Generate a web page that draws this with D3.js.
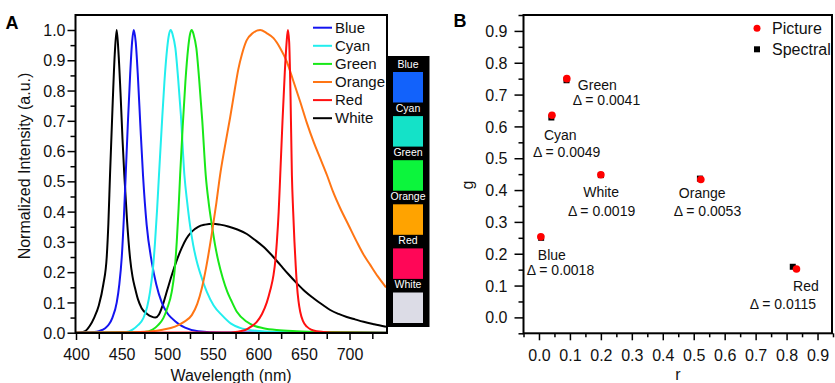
<!DOCTYPE html>
<html><head><meta charset="utf-8">
<script src="https://cdn.jsdelivr.net/npm/d3@7"></script>
<style>body{margin:0;background:#fff} svg{display:block;font-family:"Liberation Sans",Arial,sans-serif}</style>
</head><body><svg id="c" width="835" height="383"></svg>
<script>
// ---------- Panel A data ----------
const seriesNames = ["Blue", "Cyan", "Green", "Orange", "Red", "White"];
const seriesColors = ["#1414f0", "#22eeee", "#18e818", "#ff7514", "#ff1010", "#000000"];
const blueSpectrum = [[400,0],[420,0.002],[426,0.006],[432,0.015],[436,0.027],[440,0.05],[444.7,0.10],[447.5,0.16],[450.2,0.25],[452.5,0.38],[454.5,0.52],[457,0.70],[459.5,0.86],[461.5,0.96],[463.3,1.0],[465.5,0.96],[468,0.84],[470.5,0.69],[473.5,0.52],[477.5,0.356],[483,0.235],[488,0.16],[494,0.10],[500,0.065],[505,0.048],[512,0.03],[519.6,0.017],[534,0.005],[560,0.001],[740,0]];
const cyanSpectrum = [[400,0],[455,0.002],[462,0.01],[468,0.025],[473.9,0.048],[478,0.085],[481.2,0.135],[484,0.2],[486.7,0.30],[489,0.41],[491,0.52],[494,0.68],[497,0.83],[500,0.94],[502,0.985],[504,1.0],[506,0.985],[509,0.94],[512,0.84],[515,0.72],[518.9,0.52],[522,0.43],[525,0.356],[528.5,0.29],[532.5,0.235],[538,0.18],[543.5,0.135],[551,0.09],[560,0.058],[570,0.03],[580,0.016],[595,0.007],[620,0.002],[740,0]];
const greenSpectrum = [[400,0],[475,0.002],[484,0.01],[490,0.025],[495.8,0.048],[500,0.08],[505,0.135],[508,0.2],[510.5,0.30],[512.5,0.41],[514.2,0.52],[517,0.68],[520,0.83],[523,0.94],[525,0.985],[527,1.0],[529,0.985],[532,0.94],[535,0.84],[538.5,0.70],[542.3,0.52],[545.5,0.43],[549,0.356],[552.5,0.29],[556.2,0.235],[561,0.18],[566,0.135],[570,0.108],[576.4,0.069],[587.4,0.036],[596,0.022],[605.6,0.015],[620,0.009],[642,0.005],[680,0.002],[740,0]];
const orangeSpectrum = [[400,0],[460,0.001],[480,0.004],[495,0.01],[508.6,0.02],[518,0.035],[527,0.058],[533,0.095],[538,0.147],[543,0.22],[549,0.328],[554,0.43],[558,0.52],[563,0.61],[569,0.71],[574.5,0.81],[578,0.87],[582,0.92],[587,0.965],[594,0.99],[602,1.0],[609,0.99],[616.6,0.973],[624,0.94],[631.3,0.895],[638,0.835],[645.9,0.763],[653,0.695],[660.5,0.631],[668,0.575],[675.2,0.521],[682,0.465],[689.8,0.411],[699,0.355],[708,0.30],[715,0.26],[722.7,0.224],[731,0.186],[740,0.15]];
const redSpectrum = [[400,0],[570,0.001],[585,0.008],[592,0.02],[598.3,0.036],[604,0.062],[609.3,0.10],[613,0.14],[616.6,0.19],[618.7,0.24],[620.3,0.30],[622.3,0.40],[624,0.52],[626.5,0.70],[629,0.86],[631,0.96],[632.4,1.0],[633.8,0.96],[635.3,0.78],[636.8,0.52],[638.2,0.40],[639.6,0.30],[641,0.22],[642.3,0.158],[644,0.105],[645.9,0.069],[649,0.038],[653.2,0.02],[658,0.01],[664,0.005],[680,0.001],[740,0]];
const whiteSpectrum = [[400,0],[405,0.001],[410,0.005],[415,0.022],[420,0.05],[425,0.09],[430,0.16],[433.7,0.25],[435.5,0.36],[437.3,0.52],[440,0.74],[442.5,0.92],[444.6,1.0],[446.5,0.93],[449,0.78],[451,0.64],[453,0.52],[456,0.37],[459.3,0.246],[462,0.185],[464.8,0.147],[468,0.11],[472,0.081],[478,0.062],[483,0.053],[487,0.05],[491,0.06],[495,0.09],[500,0.14],[505,0.19],[510,0.235],[516,0.28],[521,0.31],[527,0.334],[534,0.35],[541.6,0.357],[550,0.36],[558,0.357],[567,0.351],[577,0.341],[587.4,0.326],[596,0.307],[605.6,0.284],[615,0.255],[624,0.224],[633,0.193],[642.3,0.163],[651,0.137],[660.5,0.114],[670,0.093],[678.8,0.075],[688,0.062],[697,0.052],[706,0.044],[715.4,0.036],[727,0.028],[740,0.02]];
const spectra = [blueSpectrum, cyanSpectrum, greenSpectrum, orangeSpectrum, redSpectrum, whiteSpectrum];
const drawOrder = [5, 0, 1, 2, 3, 4];
const wavelengthTicks = [400, 450, 500, 550, 600, 650, 700];
const wavelengthMinorTicks = [425, 475, 525, 575, 625, 675, 725];
const intensityTicks = [0, 0.1, 0.2, 0.3, 0.4, 0.5, 0.6, 0.7, 0.8, 0.9, 1.0];
const intensityMinorTicks = [0.05, 0.15, 0.25, 0.35, 0.45, 0.55, 0.65, 0.75, 0.85, 0.95];
const swatchNames = ["Blue", "Cyan", "Green", "Orange", "Red", "White"];
const swatchColors = ["#1262fb", "#14e2c8", "#0cf53c", "#ffa300", "#ff0657", "#dcdce6"];

// ---------- Panel B data ----------
const chromaNames = ["Green", "Cyan", "White", "Orange", "Blue", "Red"];
const pictureR = [0.090, 0.042, 0.200, 0.523, 0.006, 0.832];
const pictureG = [0.750, 0.635, 0.448, 0.433, 0.253, 0.152];
const spectralR = [0.089, 0.040, 0.200, 0.520, 0.007, 0.820];
const spectralG = [0.745, 0.628, 0.447, 0.436, 0.250, 0.159];
const deltas = ["0.0041", "0.0049", "0.0019", "0.0053", "0.0018", "0.0115"];
const rTicks = [0, 0.1, 0.2, 0.3, 0.4, 0.5, 0.6, 0.7, 0.8, 0.9];
const rMinorTicks = [-0.05, 0.05, 0.15, 0.25, 0.35, 0.45, 0.55, 0.65, 0.75, 0.85, 0.95];
const gTicks = [0, 0.1, 0.2, 0.3, 0.4, 0.5, 0.6, 0.7, 0.8, 0.9];
const gMinorTicks = [-0.05, 0.05, 0.15, 0.25, 0.35, 0.45, 0.55, 0.65, 0.75, 0.85, 0.95];

// ---------- Drawing ----------
const svg = d3.select("#c");
const fmt1 = d3.format(".1f");

// Panel A
const xA = d3.scaleLinear().domain([400, 740]).range([76, 386]);
const yA = d3.scaleLinear().domain([0, 1]).range([332.7, 30]);
const A = svg.append("g");

const line = d3.line().x(d => xA(d[0])).y(d => yA(d[1])).curve(d3.curveMonotoneX);
drawOrder.forEach(i => {
  A.append("path").attr("d", line(spectra[i])).attr("fill", "none")
    .attr("stroke", seriesColors[i]).attr("stroke-width", 2).attr("stroke-linejoin", "round");
});

function styleAxis(g) {
  g.select(".domain").remove();
  g.selectAll("line").attr("stroke", "#000").attr("stroke-width", 1.5);
}
// x axis A
A.append("g").attr("transform", "translate(0,333)")
  .call(d3.axisBottom(xA).tickValues(wavelengthMinorTicks).tickSize(6).tickFormat(""))
  .call(styleAxis);
const axAx = A.append("g").attr("transform", "translate(0,333)")
  .call(d3.axisBottom(xA).tickValues(wavelengthTicks).tickSize(7).tickFormat(d3.format("d")))
  .call(styleAxis);
axAx.selectAll("text").attr("y", 21).attr("dy", "0.35em").attr("font-size", 16).attr("fill", "#111").attr("font-family", null);
// y axis A
A.append("g").attr("transform", "translate(75.5,0)")
  .call(d3.axisLeft(yA).tickValues(intensityMinorTicks).tickSize(5).tickFormat(""))
  .call(styleAxis);
const ayAx = A.append("g").attr("transform", "translate(75.5,0)")
  .call(d3.axisLeft(yA).tickValues(intensityTicks).tickSize(8).tickFormat(fmt1))
  .call(styleAxis);
ayAx.selectAll("text").attr("x", -10).attr("dy", "0.35em").attr("font-size", 16).attr("fill", "#111").attr("font-family", null);

// frame A
A.append("rect").attr("x", xA(400) - 0.5).attr("y", 15).attr("width", xA(740) - xA(400) + 1.5).attr("height", 333 - 15)
  .attr("fill", "none").attr("stroke", "#000").attr("stroke-width", 2);

// legend A
seriesNames.forEach((n, i) => {
  const y = 27.7 + i * 18.1;
  A.append("line").attr("x1", 313).attr("x2", 332).attr("y1", y).attr("y2", y)
    .attr("stroke", seriesColors[i]).attr("stroke-width", 2);
  A.append("text").attr("x", 335).attr("y", y).attr("dy", "0.35em").attr("font-size", 15).attr("fill", "#111").text(n);
});

// axis titles A
A.append("text").attr("x", 231).attr("y", 381).attr("text-anchor", "middle").attr("font-size", 16).attr("fill", "#111").text("Wavelength (nm)");
A.append("text").attr("transform", "translate(30,166) rotate(-90)").attr("text-anchor", "middle").attr("font-size", 16).attr("fill", "#111").text("Normalized Intensity (a.u.)");
A.append("text").attr("x", 12).attr("y", 29).attr("text-anchor", "middle").attr("font-size", 18).attr("font-weight", "bold").text("A");

// swatch column
const sw = svg.append("g");
sw.append("rect").attr("x", 386.5).attr("y", 56).attr("width", 43).attr("height", 271).attr("fill", "#000");
swatchNames.forEach((n, i) => {
  const top = 72 + i * 44.1;
  sw.append("text").attr("x", 408).attr("y", top - 8).attr("dy", "0.35em").attr("text-anchor", "middle")
    .attr("font-size", 10.5).attr("fill", "#fff").text(n);
  sw.append("rect").attr("x", 393).attr("y", top).attr("width", 30).attr("height", 30.5).attr("fill", swatchColors[i]);
});

// Panel B
const xB = d3.scaleLinear().domain([-0.05, 0.95]).range([523.5, 833]);
const yB = d3.scaleLinear().domain([-0.05, 0.95]).range([333.3, 15]);
const B = svg.append("g");

B.append("g").attr("transform", "translate(0,333.3)")
  .call(d3.axisBottom(xB).tickValues(rMinorTicks).tickSize(4).tickFormat(""))
  .call(styleAxis);
const bxAx = B.append("g").attr("transform", "translate(0,333.3)")
  .call(d3.axisBottom(xB).tickValues(rTicks).tickSize(7).tickFormat(fmt1))
  .call(styleAxis);
bxAx.selectAll("text").attr("y", 22).attr("dy", "0.35em").attr("font-size", 16).attr("fill", "#111").attr("font-family", null);
B.append("g").attr("transform", "translate(523.5,0)")
  .call(d3.axisLeft(yB).tickValues(gMinorTicks).tickSize(5).tickFormat(""))
  .call(styleAxis);
const byAx = B.append("g").attr("transform", "translate(523.5,0)")
  .call(d3.axisLeft(yB).tickValues(gTicks).tickSize(9).tickFormat(fmt1))
  .call(styleAxis);
byAx.selectAll("text").attr("x", -16).attr("dy", "0.35em").attr("font-size", 16).attr("fill", "#111").attr("font-family", null);

B.append("rect").attr("x", 523.5).attr("y", 15).attr("width", 832 - 523.5).attr("height", 333.3 - 15)
  .attr("fill", "none").attr("stroke", "#000").attr("stroke-width", 2);

// markers
chromaNames.forEach((n, i) => {
  B.append("rect").attr("x", xB(spectralR[i]) - 3).attr("y", yB(spectralG[i]) - 3).attr("width", 6).attr("height", 6).attr("fill", "#000");
});
chromaNames.forEach((n, i) => {
  B.append("circle").attr("cx", xB(pictureR[i])).attr("cy", yB(pictureG[i])).attr("r", 3.8).attr("fill", "#f00");
});

// annotation offsets (pixels from the Picture point)
const labelOffsets = {
  Green: [[11, 6], [6, 21]],
  Cyan: [[-8, 20], [-19, 37]],
  White: [[-17.7, 17.4], [-33, 36]],
  Orange: [[-22, 14], [-27, 32]],
  Blue: [[-3, 18], [-14, 33]],
  Red: [[-3.4, 17], [-46.7, 35]]
};
chromaNames.forEach((n, i) => {
  const px = xB(pictureR[i]), py = yB(pictureG[i]);
  const o = labelOffsets[n];
  B.append("text").attr("x", px + o[0][0]).attr("y", py + o[0][1]).attr("dy", "0.35em").attr("font-size", 14).attr("fill", "#111").text(n);
  B.append("text").attr("x", px + o[1][0]).attr("y", py + o[1][1]).attr("dy", "0.35em").attr("font-size", 14).attr("fill", "#111").text("\u0394 = " + deltas[i]);
});

// legend B
B.append("circle").attr("cx", 757).attr("cy", 28.3).attr("r", 3.5).attr("fill", "#f00");
B.append("text").attr("x", 772).attr("y", 28.3).attr("dy", "0.35em").attr("font-size", 16).attr("fill", "#111").text("Picture");
B.append("rect").attr("x", 754).attr("y", 46.3).attr("width", 6).attr("height", 6).attr("fill", "#000");
B.append("text").attr("x", 772).attr("y", 49.3).attr("dy", "0.35em").attr("font-size", 16).attr("fill", "#111").text("Spectral");

// axis titles B
B.append("text").attr("x", 678).attr("y", 380).attr("text-anchor", "middle").attr("font-size", 16).attr("fill", "#111").text("r");
B.append("text").attr("transform", "translate(473,185) rotate(-90)").attr("text-anchor", "middle").attr("font-size", 16).attr("fill", "#111").text("g");
B.append("text").attr("x", 460).attr("y", 27).attr("text-anchor", "middle").attr("font-size", 18).attr("font-weight", "bold").text("B");
</script></body></html>
